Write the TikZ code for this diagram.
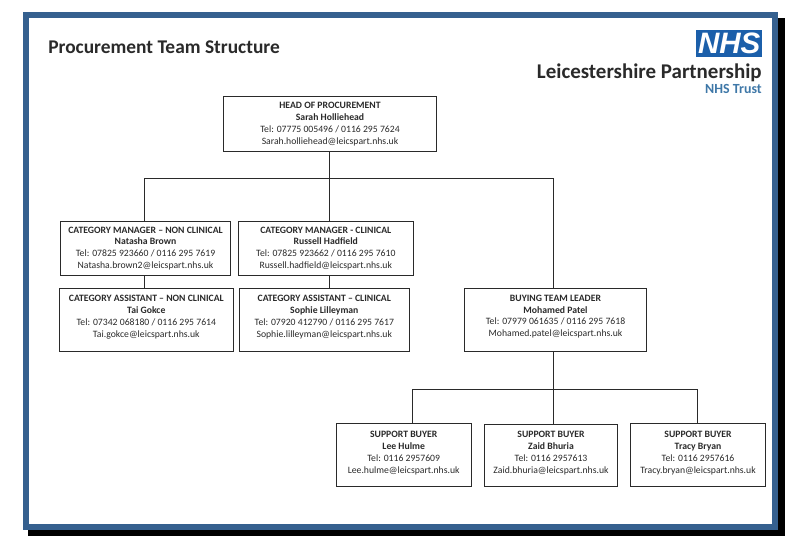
\documentclass[tikz,border=0pt]{standalone}
\usepackage{fontspec}
\setmainfont{Carlito}
\newfontfamily\logofont{Liberation Sans}
\usetikzlibrary{positioning}
\definecolor{framecol}{HTML}{35608F}
\definecolor{nhscol}{HTML}{1B5FAA}
\definecolor{trustcol}{HTML}{3F78A8}
\definecolor{inkcol}{HTML}{2A2A2A}
\newcommand{\staff}[4]{\textbf{#1}\\\textbf{#2}\\#3\\#4}
\tikzset{
  staffbox/.style={draw=inkcol,line width=.55pt,text=inkcol,align=center,inner sep=0pt,
    font=\fontsize{6.9}{8.45}\selectfont},
  rail/.style={draw=inkcol,line width=.55pt}
}
\begin{document}
\begin{tikzpicture}[x=.025cm,y=-.025cm]
\useasboundingbox (0,0) rectangle (800,551);

% frame with its shadow
\fill[black] (28,18) rectangle (785,536);
\fill[framecol] (22.5,12.5) rectangle (778,530);
\fill[white] (29,18.5) rectangle (772,523.5);

% heading
\node (title) at (48,54) [anchor=base west,inner sep=0pt,text=inkcol,font=\fontsize{13.8}{16}\selectfont\bfseries] {Procurement Team Structure};
\node (logo) at (729.2,43.6) [fill=nhscol,minimum width=66.4*.025cm,minimum height=27.4*.025cm,inner sep=0pt,text=white,font=\fontsize{21}{21}\logofont\selectfont\bfseries\itshape] {NHS};
\node (trust) at (762,78.5) [anchor=base east,inner sep=0pt,text=inkcol,font=\fontsize{14.9}{16}\selectfont\bfseries] {Leicestershire Partnership};
\node (nhstrust) at (762,94) [anchor=base east,inner sep=0pt,text=trustcol,font=\fontsize{9.9}{11}\selectfont\bfseries] {NHS Trust};

% boxes
\node (head) at (330,124) [staffbox,minimum width=213*.025cm,minimum height=55*.025cm] {\staff{HEAD OF PROCUREMENT}{Sarah Holliehead}{Tel: 07775 005496 / 0116 295 7624}{Sarah.holliehead@leicspart.nhs.uk}};
\node (cmn) at (145.5,248.5) [staffbox,minimum width=170.5*.025cm,minimum height=54*.025cm] {\staff{CATEGORY MANAGER – NON CLINICAL}{Natasha Brown}{Tel: 07825 923660 / 0116 295 7619}{Natasha.brown2@leicspart.nhs.uk}};
\node (cmc) at (325.8,248.5) [staffbox,minimum width=175*.025cm,minimum height=54*.025cm] {\staff{CATEGORY MANAGER - CLINICAL}{Russell Hadfield}{Tel: 07825 923662 / 0116 295 7610}{Russell.hadfield@leicspart.nhs.uk}};
\node (can) at (146.3,320) [staffbox,minimum width=174*.025cm,minimum height=62.5*.025cm,text depth=5.5pt] {\staff{CATEGORY ASSISTANT – NON CLINICAL}{Tai Gokce}{Tel: 07342 068180 / 0116 295 7614}{Tai.gokce@leicspart.nhs.uk}};
\node (cac) at (324.3,320) [staffbox,minimum width=170*.025cm,minimum height=62.5*.025cm,text depth=5.5pt] {\staff{CATEGORY ASSISTANT – CLINICAL}{Sophie Lilleyman}{Tel: 07920 412790 / 0116 295 7617}{Sophie.lilleyman@leicspart.nhs.uk}};
\node (lead) at (555.5,319.7) [staffbox,minimum width=182.4*.025cm,minimum height=62.7*.025cm,text depth=5.5pt] {\staff{BUYING TEAM LEADER}{Mohamed Patel}{Tel: 07979 061635 / 0116 295 7618}{Mohamed.patel@leicspart.nhs.uk}};
\node (sb1) at (403.7,454.7) [staffbox,minimum width=135.3*.025cm,minimum height=62.7*.025cm,text depth=3.4pt] {\staff{SUPPORT BUYER}{Lee Hulme}{Tel: 0116 2957609}{Lee.hulme@leicspart.nhs.uk}};
\node (sb2) at (551,455.7) [staffbox,minimum width=133.4*.025cm,minimum height=62*.025cm,text depth=4.7pt] {\staff{SUPPORT BUYER}{Zaid Bhuria}{Tel: 0116 2957613}{Zaid.bhuria@leicspart.nhs.uk}};
\node (sb3) at (698,454.7) [staffbox,minimum width=135.4*.025cm,minimum height=62.7*.025cm,text depth=3.4pt] {\staff{SUPPORT BUYER}{Tracy Bryan}{Tel: 0116 2957616}{Tracy.bryan@leicspart.nhs.uk}};

\coordinate (r0) at (144.5,178);
\coordinate (r1) at (329.5,178);
\coordinate (r2) at (553.7,178);
\coordinate (s0) at (412,389);
\coordinate (s1) at (553.7,389);
\coordinate (s2) at (697,389);

% connectors
\draw[rail] (r1 |- head.south) -- (r1);
\draw[rail] (r0) -- (r2);
\foreach \a/\b in {r0/cmn,r1/cmc,r2/lead} {
\draw[rail] (\a) -- (\a |- \b.north);
};
\draw[rail] (r0 |- cmn.south) -- (r0 |- can.north);
\draw[rail] (r1 |- cmc.south) -- (r1 |- cac.north);
\draw[rail] (s1 |- lead.south) -- (s1);
\draw[rail] (s0) -- (s2);
\foreach \a/\b in {s0/sb1,s1/sb2,s2/sb3} {
\draw[rail] (\a) -- (\a |- \b.north);
};
\end{tikzpicture}
\end{document}
